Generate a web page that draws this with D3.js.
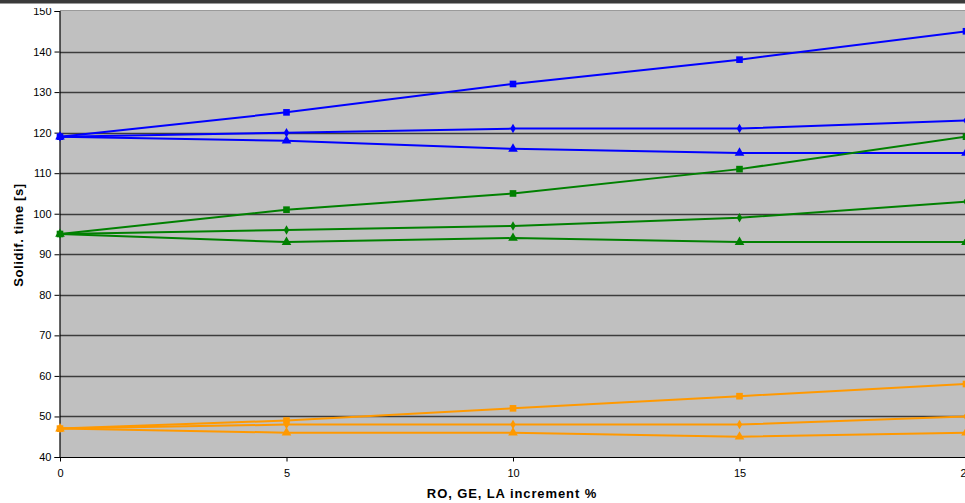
<!DOCTYPE html>
<html>
<head>
<meta charset="utf-8">
<script src="https://cdn.jsdelivr.net/npm/d3@7/dist/d3.min.js"></script>
<style>
  html, body { margin: 0; padding: 0; background: #ffffff; }
  svg { display: block; }
  text { font-family: "Liberation Sans", Arial, sans-serif; }
</style>
</head>
<body>
<svg id="chart" width="965" height="503"></svg>
<script>
// x positions: increment in %
const increments = [0, 5, 10, 15, 20];
const yTicks = [40, 50, 60, 70, 80, 90, 100, 110, 120, 130, 140, 150];

// solidification times [s] per series
const blueSquare   = [119, 125, 132, 138, 145];
const blueDiamond  = [119, 120, 121, 121, 123];
const blueTriangle = [119, 118, 116, 115, 115];
const greenSquare   = [95, 101, 105, 111, 119];
const greenDiamond  = [95, 96, 97, 99, 103];
const greenTriangle = [95, 93, 94, 93, 93];
const orangeSquare   = [47, 49, 52, 55, 58];
const orangeDiamond  = [47, 48, 48, 48, 50];
const orangeTriangle = [47, 46, 46, 45, 46];

const series = [
  { values: blueTriangle,   color: "#0000ff", marker: "triangle" },
  { values: blueDiamond,    color: "#0000ff", marker: "diamond" },
  { values: blueSquare,     color: "#0000ff", marker: "square" },
  { values: greenTriangle,  color: "#008000", marker: "triangle" },
  { values: greenDiamond,   color: "#008000", marker: "diamond" },
  { values: greenSquare,    color: "#008000", marker: "square" },
  { values: orangeTriangle, color: "#ff9900", marker: "triangle" },
  { values: orangeDiamond,  color: "#ff9900", marker: "diamond" },
  { values: orangeSquare,   color: "#ff9900", marker: "square" }
];

const svg = d3.select("#chart");
const plotLeft = 60, plotTop = 11, plotBottom = 457, plotRight = 966;

const x = d3.scaleLinear().domain([0, 20]).range([plotLeft, plotRight]);
const y = d3.scaleLinear().domain([40, 150]).range([plotBottom, plotTop]);

// window frame strip at the top
svg.append("rect").attr("x", 0).attr("y", 0).attr("width", 965).attr("height", 3).attr("fill", "#3a3a3a");
svg.append("rect").attr("x", 0).attr("y", 3).attr("width", 965).attr("height", 1).attr("fill", "#9a9a9a");

// everything below the frame strip is clipped to it
svg.append("defs").append("clipPath").attr("id", "view")
  .append("rect").attr("x", 0).attr("y", 8).attr("width", 965).attr("height", 495);

const g = svg.append("g").attr("clip-path", "url(#view)");

// plot area
g.append("rect")
  .attr("x", plotLeft).attr("y", plotTop - 1)
  .attr("width", plotRight - plotLeft + 10).attr("height", plotBottom - plotTop + 1)
  .attr("fill", "#c0c0c0");
g.append("line")
  .attr("x1", plotLeft).attr("x2", 965).attr("y1", plotTop - 0.5).attr("y2", plotTop - 0.5)
  .attr("stroke", "#9a9a9a").attr("stroke-width", 1);

// horizontal gridlines
g.append("g").selectAll("line")
  .data(yTicks.filter(v => v > 40 && v < 150))
  .join("line")
  .attr("x1", plotLeft).attr("x2", 965)
  .attr("y1", d => Math.round(y(d)) + 0.5).attr("y2", d => Math.round(y(d)) + 0.5)
  .attr("stroke", "#3c3c3c").attr("stroke-width", 1.4);

// axes
const yAxis = d3.axisLeft(y).tickValues(yTicks).tickSize(5).tickPadding(3);
const yG = g.append("g").attr("transform", `translate(${plotLeft - 0.5},0)`).call(yAxis);
const xAxis = d3.axisBottom(x).tickValues(increments).tickSize(4).tickPadding(8);
const xG = g.append("g").attr("transform", `translate(0,${plotBottom + 0.5})`).call(xAxis);
[yG, xG].forEach(a => {
  a.select(".domain").attr("stroke", "#000").attr("stroke-width", 1.2);
  a.selectAll(".tick line").attr("stroke", "#000");
  a.selectAll(".tick text").attr("fill", "#000")
    .style("font-family", "'Liberation Sans', Arial, sans-serif").style("font-size", "11px");
});
xG.select(".domain").attr("d", `M${plotLeft},0H965`);

// axis titles
g.append("text")
  .attr("transform", `translate(23,${(plotTop + plotBottom) / 2 + 1}) rotate(-90)`)
  .attr("text-anchor", "middle")
  .style("font-size", "13px").style("font-weight", "bold").style("letter-spacing", "0.6px")
  .text("Solidif. time [s]");
g.append("text")
  .attr("x", 512).attr("y", 498)
  .attr("text-anchor", "middle")
  .style("font-size", "13px").style("font-weight", "bold").style("letter-spacing", "0.9px")
  .text("RO, GE, LA increment %");

// series lines and markers
const line = d3.line().x((d, i) => x(increments[i])).y(d => y(d));
const symbolType = { square: d3.symbolSquare, diamond: d3.symbolDiamond, triangle: d3.symbolTriangle };
const symbolSize = { square: 44, diamond: 26, triangle: 40 };

const sg = g.append("g").selectAll("g").data(series).join("g");
sg.append("path")
  .attr("d", s => line(s.values))
  .attr("fill", "none")
  .attr("stroke", s => s.color)
  .attr("stroke-width", 2);
sg.each(function (s) {
  d3.select(this).selectAll("path.mk")
    .data(s.values)
    .join("path")
    .attr("class", "mk")
    .attr("transform", (d, i) => `translate(${x(increments[i])},${y(d)})`)
    .attr("d", d3.symbol().type(symbolType[s.marker]).size(symbolSize[s.marker]))
    .attr("fill", s.color);
});
</script>
</body>
</html>
